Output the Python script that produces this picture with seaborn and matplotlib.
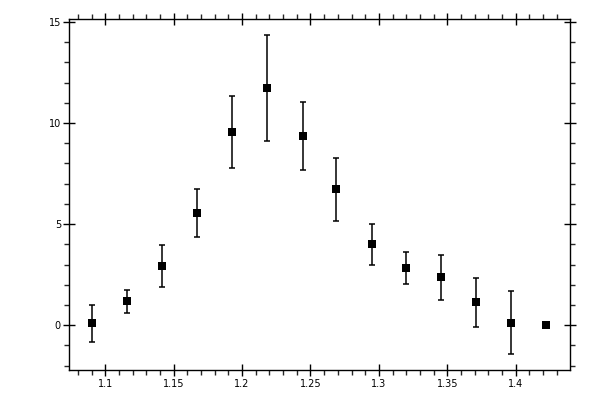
import numpy as np
import pandas as pd
import matplotlib
matplotlib.use('Agg')
import matplotlib.pyplot as plt
import seaborn as sns
from matplotlib.ticker import MultipleLocator

# values
x_vals = [1.0905, 1.1161, 1.1417, 1.1673, 1.1928, 1.2184, 1.2442,
          1.2687, 1.2949, 1.3200, 1.3456, 1.3712, 1.3968, 1.4224]
y_vals = [0.10, 1.19, 2.92, 5.54, 9.55, 11.72, 9.35,
          6.73, 4.00, 2.82, 2.37, 1.14, 0.13, 0.00]
y_err = [0.92, 0.57, 1.04, 1.20, 1.78, 2.63, 1.67,
         1.56, 1.01, 0.79, 1.11, 1.21, 1.54, 0.00]

df = pd.DataFrame({'x': x_vals, 'y': y_vals, 'err': y_err})

sns.set_style('ticks')
plt.rcParams['font.family'] = ['DejaVu Sans']

fig = plt.figure(figsize=(6, 4), dpi=100)
ax = fig.add_axes([69.3 / 600, 1 - 370.3 / 400, 501 / 600, 351 / 400])

ax.errorbar(df['x'], df['y'], yerr=df['err'], fmt='none',
            ecolor='black', elinewidth=1.1, capsize=2.2, capthick=1.1)
sns.scatterplot(data=df, x='x', y='y', marker='s', s=30,
                color='black', edgecolor='black', linewidth=0, ax=ax, zorder=3)

ax.set_xlim(1.0737, 1.4399)
ax.set_ylim(-2.23, 15.13)
ax.xaxis.set_major_locator(MultipleLocator(0.05))
ax.xaxis.set_minor_locator(MultipleLocator(0.01))
ax.yaxis.set_major_locator(MultipleLocator(5))
ax.yaxis.set_minor_locator(MultipleLocator(1))
ax.set_xticklabels([f'{t:g}' for t in ax.get_xticks()])
ax.set_yticklabels([f'{t:g}' for t in ax.get_yticks()])

ax.tick_params(which='major', direction='inout', length=8, width=1,
               top=True, right=True, labelsize=7, pad=2, colors='black')
ax.tick_params(which='minor', direction='out', length=3.5, width=1,
               top=True, right=True)
for s in ax.spines.values():
    s.set_visible(True)
    s.set_linewidth(1)
    s.set_color('black')

ax.set_xlabel('')
ax.set_ylabel('')
ax.set_xticks([1.1, 1.15, 1.2, 1.25, 1.3, 1.35, 1.4])
ax.set_xticklabels(['1.1', '1.15', '1.2', '1.25', '1.3', '1.35', '1.4'])
ax.set_yticks([0, 5, 10, 15])
ax.set_yticklabels(['0', '5', '10', '15'])

fig.savefig('out.png', dpi=100)
